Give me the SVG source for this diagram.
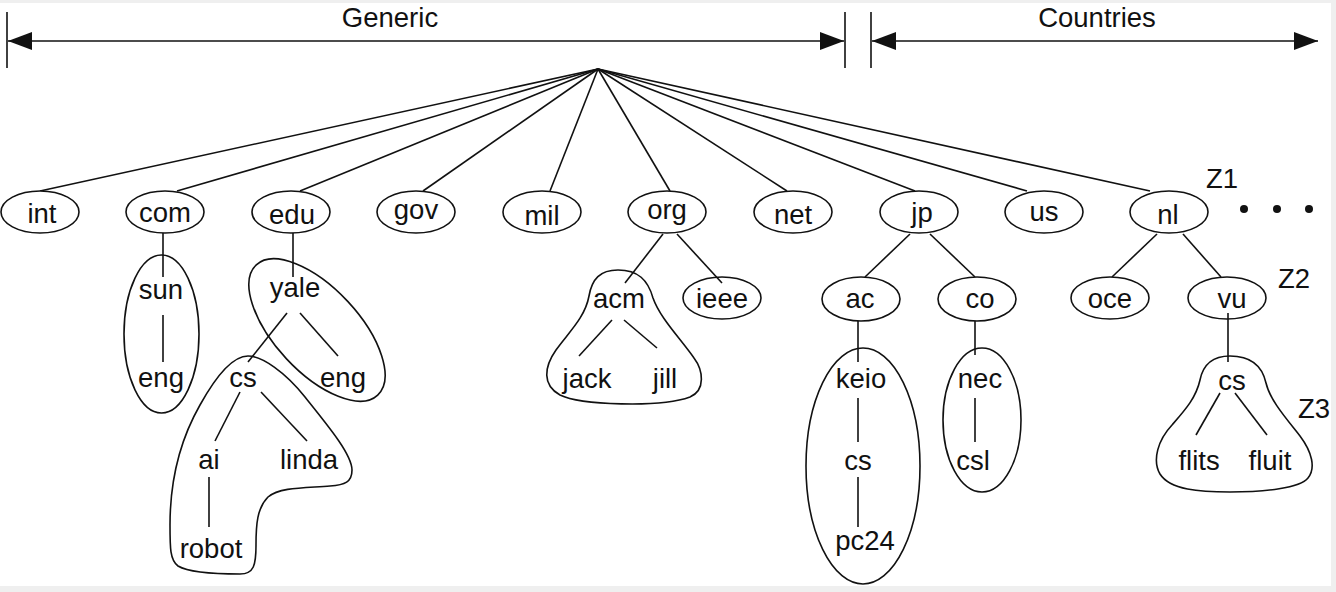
<svg xmlns="http://www.w3.org/2000/svg" width="1336" height="592" viewBox="0 0 1336 592">
<style>
text{font-family:"Liberation Sans",Arial,Helvetica,sans-serif;font-size:27.5px;fill:#111;text-anchor:middle}
.n{fill:#fff;stroke:#111;stroke-width:1.6}
.z{fill:none;stroke:#111;stroke-width:1.6}
.c line,.c path{stroke:#111;stroke-width:1.6;fill:none}
</style>
<defs>
<marker id="ah" viewBox="0 0 24 18" refX="24" refY="9" markerWidth="24" markerHeight="18" markerUnits="userSpaceOnUse" orient="auto-start-reverse">
<path d="M0,0 L24,9 L0,18 Z" fill="#111"/>
</marker>
</defs>
<rect x="0" y="0" width="1336" height="592" fill="#efefef"/>
<rect x="0" y="3" width="1331" height="583" fill="#ffffff"/>

<g id="header" class="c">
<line x1="7" y1="12" x2="7" y2="68"/>
<line x1="845" y1="12" x2="845" y2="68"/>
<line x1="871" y1="12" x2="871" y2="68"/>
<line x1="8" y1="41" x2="844" y2="41" marker-start="url(#ah)" marker-end="url(#ah)"/>
<line x1="872" y1="41" x2="1318" y2="41" marker-start="url(#ah)" marker-end="url(#ah)"/>
<text x="390" y="27">Generic</text>
<text x="1097" y="27">Countries</text>
</g>

<g id="connectors" class="c">
<line x1="598" y1="69" x2="40" y2="191"/>
<line x1="598" y1="69" x2="177" y2="191"/>
<line x1="598" y1="69" x2="300" y2="191"/>
<line x1="598" y1="69" x2="423" y2="191"/>
<line x1="598" y1="69" x2="550" y2="191"/>
<line x1="598" y1="69" x2="670" y2="191"/>
<line x1="598" y1="69" x2="787" y2="191"/>
<line x1="598" y1="69" x2="915" y2="191"/>
<line x1="598" y1="69" x2="1027" y2="191"/>
<line x1="598" y1="69" x2="1150" y2="191"/>
<line x1="163" y1="233" x2="163" y2="277"/>
<line x1="163" y1="315" x2="163" y2="362"/>
<line x1="293" y1="233" x2="293" y2="277"/>
<line x1="300" y1="313" x2="338" y2="356"/>
<line x1="287" y1="313" x2="248" y2="362"/>
<line x1="240" y1="392" x2="215" y2="441"/>
<line x1="261" y1="392" x2="307" y2="441"/>
<line x1="209" y1="477" x2="209" y2="527"/>
<line x1="663" y1="234" x2="625" y2="283"/>
<line x1="677" y1="234" x2="722" y2="283"/>
<line x1="612" y1="320" x2="579" y2="356"/>
<line x1="624" y1="320" x2="657" y2="348"/>
<line x1="910" y1="234" x2="865" y2="277"/>
<line x1="930" y1="234" x2="975" y2="277"/>
<line x1="858" y1="321" x2="858" y2="362"/>
<line x1="858" y1="398" x2="858" y2="442"/>
<line x1="858" y1="477" x2="858" y2="527"/>
<line x1="975" y1="321" x2="975" y2="355"/>
<line x1="975" y1="398" x2="975" y2="442"/>
<line x1="1157" y1="234" x2="1112" y2="277"/>
<line x1="1183" y1="234" x2="1221" y2="277"/>
<line x1="1228" y1="313" x2="1228" y2="362"/>
<line x1="1220" y1="393" x2="1196" y2="435"/>
<line x1="1235" y1="393" x2="1267" y2="435"/>
</g>

<g id="zones">
<ellipse class="z" cx="161.5" cy="334" rx="37.5" ry="79"/>
<ellipse class="z" cx="317" cy="330" rx="89" ry="42" transform="rotate(47 317 330)"/>
<path class="z" d="M248,356 C262,356 285,372 305,397 C330,428 352,455 352,470 C352,482 345,485 330,486 C305,488 280,487 268,497 C257,508 256,525 256,545 C256,565 254,574 240,574 C215,574 188,572 178,566 C170,560 170,548 170,525 C170,480 180,440 200,405 C215,378 232,356 248,356 Z"/>
<path class="z" d="M618,270 C600,270 592,279 589,296 C585,318 568,333 556,350 C544,367 542,385 560,395 C580,405 660,408 690,397 C706,390 703,370 694,358 C680,338 660,318 653,298 C648,280 638,270 618,270 Z"/>
<ellipse class="z" cx="863" cy="466" rx="57" ry="118"/>
<ellipse class="z" cx="982" cy="420" rx="39" ry="72"/>
<path class="z" d="M1230,356 C1212,356 1203,365 1200,380 C1196,398 1185,410 1172,425 C1158,440 1152,460 1160,474 C1170,490 1200,492 1230,492 C1265,492 1300,488 1308,478 C1316,468 1312,452 1300,436 C1285,417 1270,400 1266,383 C1262,365 1250,356 1230,356 Z"/>
<text x="1222" y="188">Z1</text>
<text x="1294" y="288">Z2</text>
<text x="1314" y="418">Z3</text>
<circle cx="1244" cy="209" r="4" fill="#111"/>
<circle cx="1277" cy="209" r="4" fill="#111"/>
<circle cx="1309" cy="209" r="4" fill="#111"/>
</g>

<g id="n-int"><ellipse class="n" cx="40" cy="212" rx="39" ry="21"/><text x="42" y="223">int</text></g>
<g id="n-com"><ellipse class="n" cx="165" cy="212" rx="39" ry="21"/><text x="165" y="222">com</text></g>
<g id="n-edu"><ellipse class="n" cx="291" cy="212" rx="39" ry="21"/><text x="292" y="224">edu</text></g>
<g id="n-gov"><ellipse class="n" cx="416" cy="212" rx="39" ry="21"/><text x="416" y="219">gov</text></g>
<g id="n-mil"><ellipse class="n" cx="542" cy="212" rx="39" ry="21"/><text x="542" y="225">mil</text></g>
<g id="n-org"><ellipse class="n" cx="667" cy="212" rx="39" ry="21"/><text x="667" y="219">org</text></g>
<g id="n-net"><ellipse class="n" cx="793" cy="212" rx="39" ry="21"/><text x="793" y="224">net</text></g>
<g id="n-jp"><ellipse class="n" cx="919" cy="212" rx="39" ry="21"/><text x="922" y="222">jp</text></g>
<g id="n-us"><ellipse class="n" cx="1044" cy="212" rx="39" ry="21"/><text x="1044" y="221">us</text></g>
<g id="n-nl"><ellipse class="n" cx="1169" cy="212" rx="39" ry="21"/><text x="1168" y="224">nl</text></g>

<g id="n-ieee"><ellipse class="n" cx="722" cy="298" rx="39" ry="21" fill-opacity="0"/><text x="722" y="308">ieee</text></g>
<g id="n-ac"><ellipse class="n" cx="861" cy="299" rx="39" ry="22"/><text x="860" y="308">ac</text></g>
<g id="n-co"><ellipse class="n" cx="977" cy="299" rx="39" ry="22"/><text x="980" y="308">co</text></g>
<g id="n-oce"><ellipse class="n" cx="1110" cy="298" rx="39" ry="21"/><text x="1110" y="308">oce</text></g>
<g id="n-vu"><ellipse class="n" cx="1227" cy="298" rx="39" ry="21" fill-opacity="0"/><text x="1232" y="308">vu</text></g>

<g id="n-sun"><text x="161" y="299">sun</text></g>
<g id="n-com-eng"><text x="161" y="387">eng</text></g>
<g id="n-yale"><text x="295" y="297">yale</text></g>
<g id="n-yale-eng"><text x="343" y="387">eng</text></g>
<g id="n-cs-yale"><text x="243" y="387">cs</text></g>
<g id="n-ai"><text x="209" y="469">ai</text></g>
<g id="n-linda"><text x="309" y="469">linda</text></g>
<g id="n-robot"><text x="211" y="558">robot</text></g>
<g id="n-acm"><text x="619" y="308">acm</text></g>
<g id="n-jack"><text x="587" y="388">jack</text></g>
<g id="n-jill"><text x="665" y="388">jill</text></g>
<g id="n-keio"><text x="861" y="388">keio</text></g>
<g id="n-cs-keio"><text x="858" y="470">cs</text></g>
<g id="n-pc24"><text x="865" y="550">pc24</text></g>
<g id="n-nec"><text x="980" y="388">nec</text></g>
<g id="n-csl"><text x="973" y="470">csl</text></g>
<g id="n-cs-vu"><text x="1232" y="390">cs</text></g>
<g id="n-flits"><text x="1199" y="470">flits</text></g>
<g id="n-fluit"><text x="1270" y="470">fluit</text></g>
</svg>
